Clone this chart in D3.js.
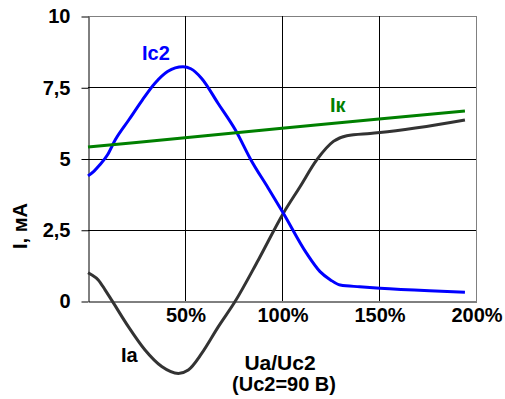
<!DOCTYPE html>
<html>
<head>
<meta charset="utf-8">
<script src="https://cdn.jsdelivr.net/npm/d3@7/dist/d3.min.js"></script>
<style>
  body { margin: 0; background: #fff; }
  svg { display: block; }
  text { font-family: "Liberation Sans", Arial, sans-serif; font-weight: bold; }
</style>
</head>
<body>
<script>
// ---- data ----
const yTicks = [0, 2.5, 5, 7.5, 10];
const xTicks = [50, 100, 150, 200];

const ic2Pct = [0, 3, 6, 10, 14, 21, 28, 34.5, 41, 45, 49, 53, 58.6, 67, 76, 84, 93, 100.7, 112.7, 119.6, 125, 130, 140, 150.5, 176, 194.3];
const ic2Val = [4.39, 4.55, 4.77, 5.12, 5.65, 6.35, 7.05, 7.64, 8.05, 8.18, 8.22, 8.15, 7.81, 6.94, 6.0, 4.95, 3.95, 3.08, 1.67, 1.03, 0.74, 0.56, 0.5, 0.45, 0.36, 0.31];

const iaPct = [0, 2, 5.3, 8.8, 12.2, 20.8, 29.4, 38, 46.6, 51.7, 58.6, 67.2, 75.8, 87.8, 100.7, 109.3, 117.9, 126.5, 133.4, 145.4, 150.5, 194.3];
const iaVal = [0.99, 0.91, 0.74, 0.39, 0.03, -0.9, -1.72, -2.3, -2.54, -2.42, -1.84, -0.9, -0.02, 1.44, 3.08, 4.01, 4.95, 5.6, 5.8, 5.88, 5.91, 6.35];

const ikPct = [0, 50, 100, 150, 194.3];
const ikVal = [5.4, 5.73, 6.06, 6.39, 6.67];

// ---- layout ----
const W = 505, H = 399;
const pLeft = 88, pRight = 476, pTop = 16, pBottom = 301;

const svg = d3.select("body").append("svg").attr("width", W).attr("height", H);
svg.append("rect").attr("width", W).attr("height", H).attr("fill", "#fff");

const x = d3.scaleLinear().domain([0, 200]).range([pLeft, pRight]);
const y = d3.scaleLinear().domain([0, 10]).range([pBottom, pTop]);

// grid
const g = svg.append("g");
yTicks.filter(v => v > 0).forEach(v => {
  g.append("line").attr("x1", pLeft).attr("x2", pRight)
    .attr("y1", Math.round(y(v)) + 0.5).attr("y2", Math.round(y(v)) + 0.5)
    .attr("stroke", v === 10 ? "#808080" : "#000").attr("stroke-width", 1);
});
xTicks.forEach(v => {
  g.append("line").attr("y1", pTop).attr("y2", pBottom)
    .attr("x1", Math.round(x(v)) + 0.5).attr("x2", Math.round(x(v)) + 0.5)
    .attr("stroke", v === 200 ? "#808080" : "#000").attr("stroke-width", 1);
});

// axes
const fmt = v => String(v).replace(".", ",");
const ay = svg.append("g").attr("transform", `translate(${pLeft + 0.5},0.5)`)
  .call(d3.axisLeft(y).tickValues(yTicks).tickFormat(fmt).tickSizeInner(7).tickSizeOuter(0).tickPadding(11));
const ax = svg.append("g").attr("transform", `translate(0.5,${pBottom + 0.5})`)
  .call(d3.axisBottom(x).tickValues(xTicks).tickFormat(d => d + "%").tickSizeInner(0).tickSizeOuter(0).tickPadding(6));
[ay, ax].forEach(a => {
  a.selectAll("path.domain").attr("stroke", "#000").attr("stroke-width", 1);
  a.selectAll("line").attr("stroke", "#000");
  a.selectAll("text").attr("font-size", 20).attr("fill", "#000")
    .attr("font-family", "'Liberation Sans', Arial, sans-serif").attr("font-weight", "bold");
});

// series
const line = d3.line().x(d => x(d[0])).y(d => y(d[1])).curve(d3.curveMonotoneX);
const series = [
  { pct: iaPct, val: iaVal, color: "#333333" },
  { pct: ic2Pct, val: ic2Val, color: "#0000ff" },
  { pct: ikPct, val: ikVal, color: "#008000" }
];
series.forEach(s => {
  svg.append("path").datum(s.pct.map((p, i) => [p, s.val[i]]))
    .attr("d", line).attr("fill", "none").attr("stroke", s.color)
    .attr("stroke-width", 3).attr("stroke-linejoin", "round");
});

// labels
const lab = (t, xx, yy, c, anchor, fs) => svg.append("text").attr("x", xx).attr("y", yy)
  .attr("fill", c).attr("font-size", fs || 20).attr("text-anchor", anchor || "start").text(t);
lab("Ic2", 142, 60, "#0000ff");
lab("Iк", 330, 112, "#008000");
lab("Ia", 121, 362, "#000");
lab("Ua/Uc2", 280, 370, "#000", "middle", 21);
lab("(Uc2=90 В)", 284, 391, "#000", "middle", 20);
svg.append("text").attr("transform", "translate(27,226) rotate(-90)")
  .attr("text-anchor", "middle").attr("font-size", 20).attr("fill", "#000").text("I, мА");
</script>
</body>
</html>
